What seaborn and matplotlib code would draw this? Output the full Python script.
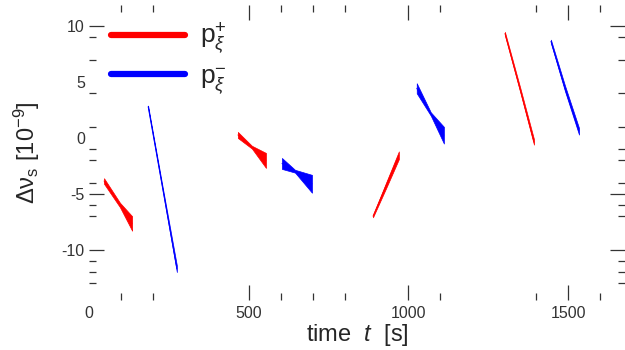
import numpy as np
import pandas as pd
import matplotlib
matplotlib.use("Agg")
import matplotlib.pyplot as plt
from matplotlib.lines import Line2D
import seaborn as sns

# Frequency-shift bands per measurement run: time [s], lower and upper edge [1e-9]
red_runs = {
    "t":  [[47, 97, 135], [466, 510, 554], [889, 930, 970], [1302, 1350, 1393]],
    "lo": [[-4.1, -6.2, -8.3], [0.0, -0.95, -2.68], [-7.1, -4.5, -1.9], [9.2, 4.1, -0.6]],
    "hi": [[-3.6, -5.8, -7.0], [0.54, -0.7, -1.34], [-6.9, -4.0, -1.2], [9.5, 4.5, -0.1]],
}
blue_runs = {
    "t":  [[185, 230, 275], [604, 645, 698], [1026, 1070, 1111], [1446, 1490, 1534]],
    "lo": [[2.7, -4.6, -12.0], [-2.77, -3.1, -4.9], [4.0, 2.0, -0.5], [8.5, 4.2, 0.3]],
    "hi": [[2.9, -4.3, -11.4], [-1.79, -2.85, -3.3], [4.9, 2.3, 1.0], [8.8, 4.7, 0.9]],
}
series_names = ["p+", "p-"]
series_labels = [r"p$_{ξ}^{+}$", r"p$_{ξ}^{−}$"]
series_colors = ["#ff0000", "#0000ff"]

x_major = [0, 500, 1000, 1500]
x_minor = [100, 200, 600, 700, 800, 1100, 1400, 1600]
y_major = [-10, -5, 0, 5, 10]
y_minor = [9, 7, 4, 1, -1, -2, -4, -6, -7, -11, -12, -13]

rows = []
for name, runs in zip(series_names, [red_runs, blue_runs]):
    for k, (ts, los, his) in enumerate(zip(runs["t"], runs["lo"], runs["hi"])):
        for t, lo, hi in zip(ts, los, his):
            rows.append((name, k, t, lo))
            rows.append((name, k, t, hi))
df = pd.DataFrame(rows, columns=["series", "run", "time", "nu"])

sns.set_style("white")
plt.rcParams["font.family"] = ["Liberation Sans", "DejaVu Sans"]
plt.rcParams["mathtext.fontset"] = "custom"
plt.rcParams["mathtext.rm"] = "Liberation Sans"
plt.rcParams["mathtext.it"] = "Liberation Sans:italic"
plt.rcParams["axes.unicode_minus"] = False

fig = plt.figure(figsize=(6.25, 3.5), dpi=100)
ax = fig.add_axes([89 / 625, 50 / 350, 536 / 625, 295 / 350])

for name, color in zip(series_names, series_colors):
    sub = df[df["series"] == name]
    for k in sorted(sub["run"].unique()):
        sns.lineplot(data=sub[sub["run"] == k], x="time", y="nu",
                     estimator="mean", errorbar=("pi", 100),
                     color=color, linewidth=0.6,
                     err_kws={"alpha": 1.0, "linewidth": 0.5, "edgecolor": color},
                     legend=False, ax=ax)

ax.set_xlim(0, 1678)
ax.set_ylim(-14.5, 11.9)
for s in ax.spines.values():
    s.set_visible(False)

ax.set_xticks(x_major)
ax.set_xticks(x_minor, minor=True)
ax.set_yticks(y_major)
ax.set_yticks(y_minor, minor=True)
ax.tick_params(which="both", direction="in", top=True, right=True,
               bottom=True, left=True, color="#333333", width=0.9)
ax.tick_params(which="major", length=10.8, labelsize=11.5, labelcolor="#333333")
ax.tick_params(which="minor", length=5)
ax.tick_params(axis="x", which="major", pad=4)
ax.tick_params(axis="y", which="major", pad=3)

# hide tick marks whose labels stand alone
for i, v in enumerate(x_major):
    if v == 0:
        t = ax.xaxis.get_major_ticks()[i]
        t.tick1line.set_visible(False)
        t.tick2line.set_visible(False)
for i, v in enumerate(y_major):
    if v in (0, 5):
        t = ax.yaxis.get_major_ticks()[i]
        t.tick1line.set_visible(False)
        t.tick2line.set_visible(False)

ax.set_xlabel(r"time  $t$  [s]", fontsize=17, labelpad=1)
ax.set_ylabel(r"Δν$_{\mathregular{s}}$ [10$^{\mathregular{-9}}$]", fontsize=17, labelpad=14)

handles = [Line2D([], [], color=c, linewidth=4.5) for c in series_colors]
ax.legend(handles, series_labels, loc="upper left", bbox_to_anchor=(0.041, 0.946),
          frameon=False, fontsize=19, handlelength=2.8, handletextpad=0.57,
          labelspacing=0.27, borderaxespad=0, borderpad=0)

fig.savefig("out.png", dpi=100, facecolor="white")
